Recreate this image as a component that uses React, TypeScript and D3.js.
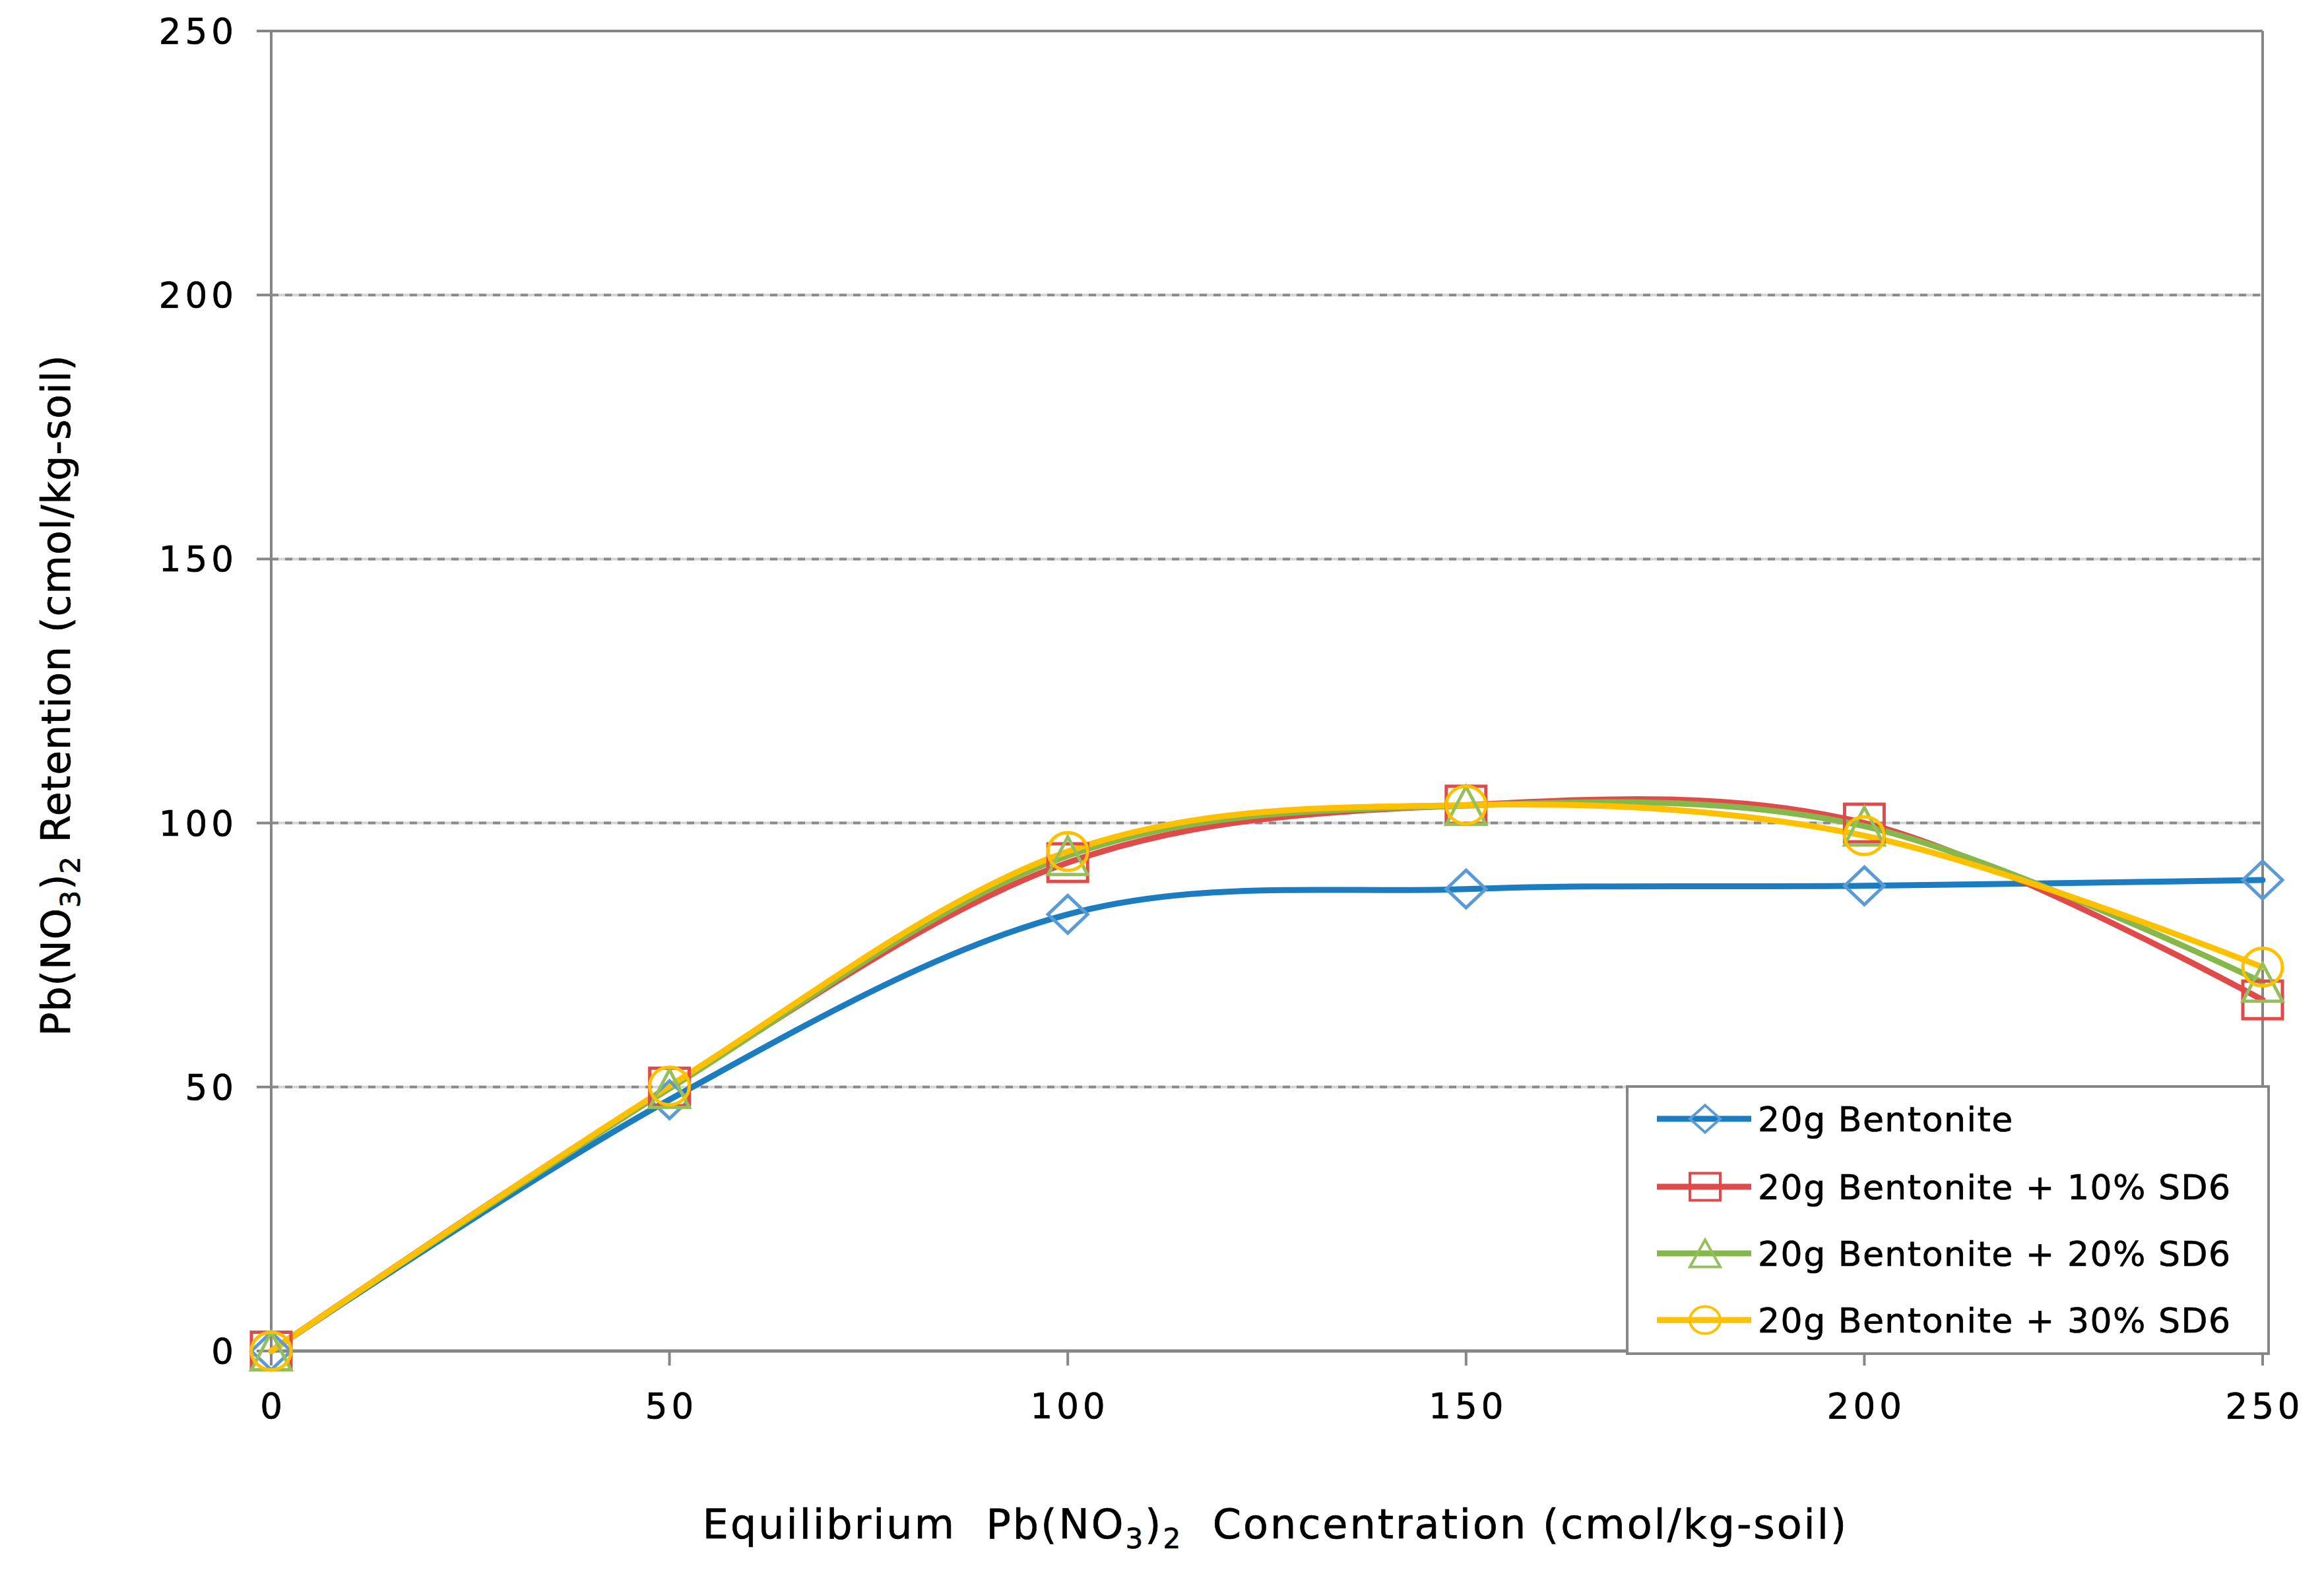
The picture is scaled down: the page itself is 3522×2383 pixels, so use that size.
import React from "react";
import * as d3 from "d3";

const xValues = [0, 50, 100, 150, 200, 250];
const bentonite = [0, 47.6, 82.7, 87.5, 88.1, 89.2];
const bentonite10 = [0, 50.0, 92.5, 103.4, 100.0, 66.5];
const bentonite20 = [0, 49.7, 93.8, 103.3, 99.4, 69.8];
const bentonite30 = [0, 50.2, 94.6, 103.4, 97.6, 72.7];
const seriesNames = [
  "20g Bentonite",
  "20g Bentonite + 10% SD6",
  "20g Bentonite + 20% SD6",
  "20g Bentonite + 30% SD6",
];
const xTicks = [0, 50, 100, 150, 200, 250];
const yTicks = [0, 50, 100, 150, 200, 250];
const gridTicks = [50, 100, 150, 200];

const W = 3522;
const H = 2383;
const FONT = "DejaVu Sans";
const AXIS = "#868686";
const TEXT = "#000";

const series = [
  { name: seriesNames[0], values: bentonite, line: "#1c7cc0", marker: "#5b9bd5", shape: "diamond" },
  { name: seriesNames[1], values: bentonite10, line: "#e04a4a", marker: "#e04a4a", shape: "square" },
  { name: seriesNames[2], values: bentonite20, line: "#86b74b", marker: "#94c05c", shape: "triangle" },
  { name: seriesNames[3], values: bentonite30, line: "#ffc000", marker: "#ffc000", shape: "circle" },
];

function Marker({ shape, cx, cy, w, h, color, sw }: any) {
  const hw = w / 2;
  const hh = h / 2;
  if (shape === "diamond") {
    return <path d={`M${cx},${cy - hh}L${cx + hw},${cy}L${cx},${cy + hh}L${cx - hw},${cy}Z`} fill="none" stroke={color} strokeWidth={sw} />;
  }
  if (shape === "square") {
    return <rect x={cx - hw} y={cy - hh} width={w} height={h} fill="none" stroke={color} strokeWidth={sw} />;
  }
  if (shape === "triangle") {
    return <path d={`M${cx},${cy - hh}L${cx + hw},${cy + hh}L${cx - hw},${cy + hh}Z`} fill="none" stroke={color} strokeWidth={sw} />;
  }
  return <ellipse cx={cx} cy={cy} rx={hw} ry={hh} fill="none" stroke={color} strokeWidth={sw} />;
}

export default function App() {
  const left = 411, right = 3429, top = 47, bottom = 2048;
  const x = d3.scaleLinear().domain([0, 250]).range([left, right]);
  const y = d3.scaleLinear().domain([0, 250]).range([bottom, top]);
  const line = d3
    .line<number>()
    .x((_, i) => x(xValues[i]))
    .y((d) => y(d))
    .curve(d3.curveCardinal.tension(0));

  const tickLS = 6;
  const legX = 2466, legY = 1647, legW = 972, legH = 405;
  const rowY = [1696, 1799, 1900, 2001];
  const textStroke = { stroke: TEXT, strokeWidth: 0.7 };

  return (
    <svg width={W} height={H} style={{ position: "absolute", left: 0, top: 0, background: "#fff" }} fontFamily={FONT}>
      <rect x={0} y={0} width={W} height={H} fill="#fff" />
      {/* gridlines */}
      {gridTicks.map((t) => (
        <g key={"g" + t}>
          <line x1={left} x2={right} y1={y(t)} y2={y(t)} stroke="#d4d4d4" strokeWidth={4} />
          <line x1={left} x2={right} y1={y(t)} y2={y(t)} stroke="#8a8a8a" strokeWidth={4} strokeDasharray="11 10" />
        </g>
      ))}
      {/* plot border */}
      <line x1={left - 22} x2={right} y1={top} y2={top} stroke={AXIS} strokeWidth={4} />
      <line x1={right} x2={right} y1={top} y2={bottom} stroke={AXIS} strokeWidth={4} />
      <line x1={left} x2={left} y1={top} y2={bottom} stroke={AXIS} strokeWidth={4} />
      <line x1={left} x2={right} y1={bottom} y2={bottom} stroke={AXIS} strokeWidth={5} />
      {/* y ticks */}
      {yTicks.map((t) => (
        <g key={"y" + t}>
          <line x1={left - 22} x2={left} y1={y(t)} y2={y(t)} stroke={AXIS} strokeWidth={4} />
          <text x={360} y={y(t) + 19} textAnchor="end" fontSize={53} letterSpacing={tickLS} fill={TEXT} {...textStroke}>
            {t}
          </text>
        </g>
      ))}
      {/* x ticks */}
      {xTicks.map((t) => (
        <g key={"x" + t}>
          <line x1={x(t)} x2={x(t)} y1={bottom} y2={bottom + 22} stroke={AXIS} strokeWidth={4} />
          <text x={x(t) + tickLS / 2} y={2150} textAnchor="middle" fontSize={53} letterSpacing={tickLS} fill={TEXT} {...textStroke}>
            {t}
          </text>
        </g>
      ))}
      {/* series */}
      {series.map((s) => (
        <path key={"l" + s.name} d={line(s.values) || ""} fill="none" stroke={s.line} strokeWidth={9} strokeLinejoin="round" strokeLinecap="round" />
      ))}
      {series.map((s) => (
        <g key={"m" + s.name}>
          {s.values.map((v, i) => (
            <Marker key={i} shape={s.shape} cx={x(xValues[i])} cy={y(v)} w={60} h={57} color={s.marker} sw={5} />
          ))}
        </g>
      ))}
      {/* legend */}
      <rect x={legX} y={legY} width={legW} height={legH} fill="#fff" stroke={AXIS} strokeWidth={4} />
      {series.map((s, i) => (
        <g key={"leg" + s.name}>
          <line x1={2511} x2={2654} y1={rowY[i]} y2={rowY[i]} stroke={s.line} strokeWidth={9} />
          <Marker shape={s.shape} cx={2584} cy={rowY[i]} w={46} h={41} color={s.marker} sw={4} />
          <text x={2664} y={rowY[i] + 19} fontSize={52} letterSpacing={1.5} fill={TEXT} {...textStroke}>
            {s.name}
          </text>
        </g>
      ))}
      {/* x title */}
      <text x={1933} y={2332} textAnchor="middle" fontSize={62} letterSpacing={3} fill={TEXT} {...textStroke} style={{ whiteSpace: "pre" }}>
        {"Equilibrium  Pb(NO"}
        <tspan fontSize={42} dy={15}>3</tspan>
        <tspan dy={-15}>)</tspan>
        <tspan fontSize={42} dy={15}>2</tspan>
        <tspan dy={-15}>{"  Concentration (cmol/kg-soil)"}</tspan>
      </text>
      {/* y title */}
      <text transform={`translate(106,1054) rotate(-90)`} textAnchor="middle" fontSize={60} letterSpacing={1} fill={TEXT} {...textStroke} style={{ whiteSpace: "pre" }}>
        {"Pb(NO"}
        <tspan fontSize={41} dy={15}>3</tspan>
        <tspan dy={-15}>)</tspan>
        <tspan fontSize={41} dy={15}>2</tspan>
        <tspan dy={-15}>{" Retention (cmol/kg-soil)"}</tspan>
      </text>
    </svg>
  );
}
